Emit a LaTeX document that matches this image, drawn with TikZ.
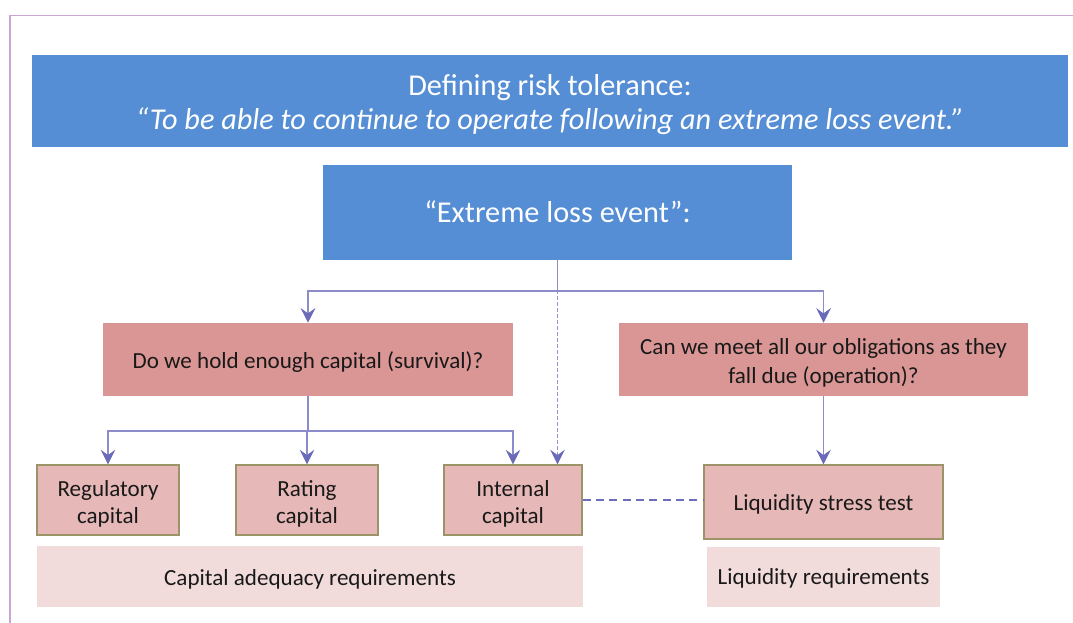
\documentclass[tikz,border=0pt]{standalone}
\usepackage{fontspec}
\setmainfont{Carlito}
\usetikzlibrary{arrows.meta}
\definecolor{bluebox}{HTML}{558ED5}
\definecolor{pinkA}{HTML}{D99694}
\definecolor{pinkB}{HTML}{E6B9B8}
\definecolor{pinkC}{HTML}{F2DCDB}
\definecolor{olive}{HTML}{9C9468}
\definecolor{framec}{HTML}{C8A6D6}
\definecolor{linec}{HTML}{8C8CCA}
\definecolor{headc}{HTML}{6A6AB8}
\definecolor{dashc}{HTML}{6E6EBC}
\definecolor{dotc}{HTML}{9494D0}
\tikzset{
  bluebx/.style={draw=none, fill=bluebox, text=white, align=center, inner sep=0pt},
  pinkbx/.style={draw=none, fill=pinkA, text=black!90, align=center, inner sep=0pt, font=\fontsize{17.3}{21.75}\selectfont},
  smallbx/.style={draw=olive, line width=0.9pt, fill=pinkB, text=black!90, align=center, inner sep=0pt, font=\fontsize{17.3}{20}\selectfont},
  reqbx/.style={draw=none, fill=pinkC, text=black!90, align=center, inner sep=0pt, font=\fontsize{17.3}{21}\selectfont},
  conn/.style={draw=linec, line width=0.8pt},
  arr/.style={conn, -{Stealth[inset=4pt, length=11pt, width=11pt, color=headc]}},
  dotarr/.style={draw=dotc, line width=1pt, dash pattern=on 2.5pt off 2pt, -{Stealth[inset=4pt, length=11pt, width=11pt, color=headc]}},
  dashln/.style={draw=dashc, line width=1.3pt, dash pattern=on 6pt off 4pt},
  titletext/.style={text=white, inner sep=0pt, anchor=base, font=\fontsize{22.7}{26}\selectfont},
  twoline/.style={text height=34.5pt, text depth=0pt},
}
\begin{document}
\begin{tikzpicture}[x=0.75pt, y=-0.75pt]
\useasboundingbox (0,0) rectangle (1073,623);
\draw[framec, line width=1.2pt] (10,623) -- (10,15.5) -- (1073,15.5);

\node[bluebx, minimum width=1036*0.75pt, minimum height=92*0.75pt] (top) at (550,101) {};
\node[titletext] (t1) at (550,95.5) {Defining risk tolerance:};
\node[titletext, font=\fontsize{22.7}{26}\selectfont\itshape] (t2) at (550,129.5) {“To be able to continue to operate following an extreme loss event.”};

\node[bluebx, minimum width=469*0.75pt, minimum height=95*0.75pt, font=\fontsize{22.7}{26}\selectfont, text height=15.75pt, text depth=0pt] (ext) at (557.5,212.5) {“Extreme loss event”:};

\node[pinkbx, minimum width=410*0.75pt, minimum height=73*0.75pt, text height=12.75pt, text depth=0pt] (q1) at (308,359.5) {Do we hold enough capital (survival)?};
\node[pinkbx, minimum width=409*0.75pt, minimum height=73*0.75pt, text height=35.25pt, text depth=0pt] (q2) at (823.5,359.5) {Can we meet all our obligations as they\\fall due (operation)?};

\node[smallbx, twoline, minimum width=142*0.75pt, minimum height=70*0.75pt] (reg) at (108,500) {Regulatory\\capital};
\node[smallbx, twoline, minimum width=142*0.75pt, minimum height=70*0.75pt] (rat) at (307,500) {Rating\\capital};
\node[smallbx, twoline, minimum width=138*0.75pt, minimum height=70*0.75pt] (int) at (513,500) {Internal\\capital};
\node[smallbx, minimum width=239*0.75pt, minimum height=74*0.75pt, text height=12pt, text depth=0pt] (liq) at (823.5,502) {Liquidity stress test};

\node[reqbx, minimum width=546*0.75pt, minimum height=61*0.75pt, text height=12.75pt, text depth=0pt] (cap) at (310,576.5) {Capital adequacy requirements};
\node[reqbx, minimum width=233*0.75pt, minimum height=60*0.75pt, text height=10.5pt, text depth=0pt] (liqr) at (823.5,577) {Liquidity requirements};

% connectors
\draw[dotarr] (ext.south) -- (ext.south |- int.north);
\coordinate (j1) at (557.5,291);
\draw[conn] (ext.south) -- (j1);
\draw[arr] (j1) -| (q1.north);
\draw[arr] (j1) -| (q2.north);

\coordinate (j2) at (308,431);
\draw[conn] (q1.south) -- (j2);
\draw[arr] (j2) -| (reg.north);
\draw[arr] (j2) -| (rat.north);
\draw[arr] (j2) -| (int.north);

\draw[arr] (q2.south) -- (liq.north);

\draw[dashln] (int.east) -- (int.east -| liq.west);
\end{tikzpicture}
\end{document}
